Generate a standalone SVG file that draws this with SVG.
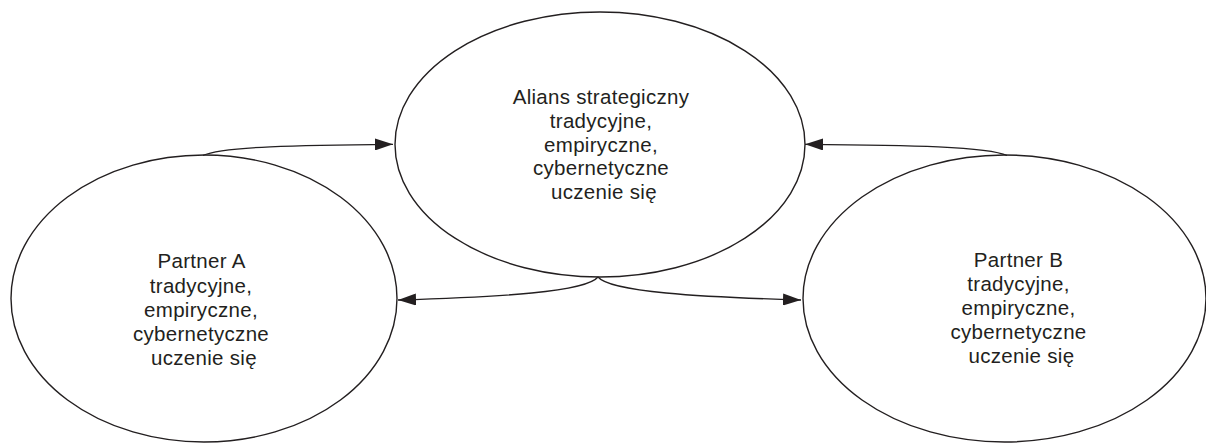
<svg xmlns="http://www.w3.org/2000/svg" width="1206" height="443" viewBox="0 0 1206 443">
<style>
.node{fill:none;stroke:#231f20;stroke-width:1.4}
.lbl{font-family:"Liberation Sans",Arial,sans-serif;font-size:20.5px;letter-spacing:0.3px;fill:#231f20;text-anchor:middle}
.edge{fill:none;stroke:#231f20;stroke-width:1.3}
</style>
<defs>
<marker id="ah" markerUnits="userSpaceOnUse" viewBox="0 0 18 12" refX="18" refY="6" markerWidth="18" markerHeight="12" orient="auto">
<path d="M0,0 L18,6 L0,12 z" fill="#231f20"/>
</marker>
</defs>
<rect width="1206" height="443" fill="#fff"/>
<g id="alians">
<ellipse class="node" cx="600" cy="144.5" rx="205" ry="132.5"/>
<text class="lbl" x="604" y="104.3">
<tspan x="604" y="104.3">Alians strategiczny</tspan>
<tspan x="604" y="128">tradycyjne,</tspan>
<tspan x="604" y="151.7">empiryczne,</tspan>
<tspan x="604" y="175.4">cybernetyczne</tspan>
<tspan x="604" y="199.1">uczenie się</tspan>
</text>
</g>
<g id="partnerA">
<ellipse class="node" cx="204" cy="298.5" rx="193" ry="143.5"/>
<text class="lbl" x="204" y="268.3">
<tspan x="204" y="268.3">Partner A</tspan>
<tspan x="204" y="292.5">tradycyjne,</tspan>
<tspan x="204" y="316.7">empiryczne,</tspan>
<tspan x="204" y="340.9">cybernetyczne</tspan>
<tspan x="204" y="365.1">uczenie się</tspan>
</text>
</g>
<g id="partnerB">
<ellipse class="node" cx="1004.5" cy="298.5" rx="201.5" ry="143.5"/>
<text class="lbl" x="1021.5" y="266.7">
<tspan x="1021.5" y="266.7">Partner B</tspan>
<tspan x="1021.5" y="290.7">tradycyjne,</tspan>
<tspan x="1021.5" y="314.7">empiryczne,</tspan>
<tspan x="1021.5" y="338.7">cybernetyczne</tspan>
<tspan x="1021.5" y="362.7">uczenie się</tspan>
</text>
</g>
<g id="connectors">
<path class="edge" marker-end="url(#ah)" d="M203,155.5 C222,146.5 300,145 393,144.3"/>
<path class="edge" marker-end="url(#ah)" d="M1007,155.5 C988,146.5 910,145 805,144.3"/>
<path class="edge" marker-end="url(#ah)" d="M598,277 C586,292 500,297 398,300"/>
<path class="edge" marker-end="url(#ah)" d="M598,277 C610,292 700,297 801,300"/>
</g>
</svg>
